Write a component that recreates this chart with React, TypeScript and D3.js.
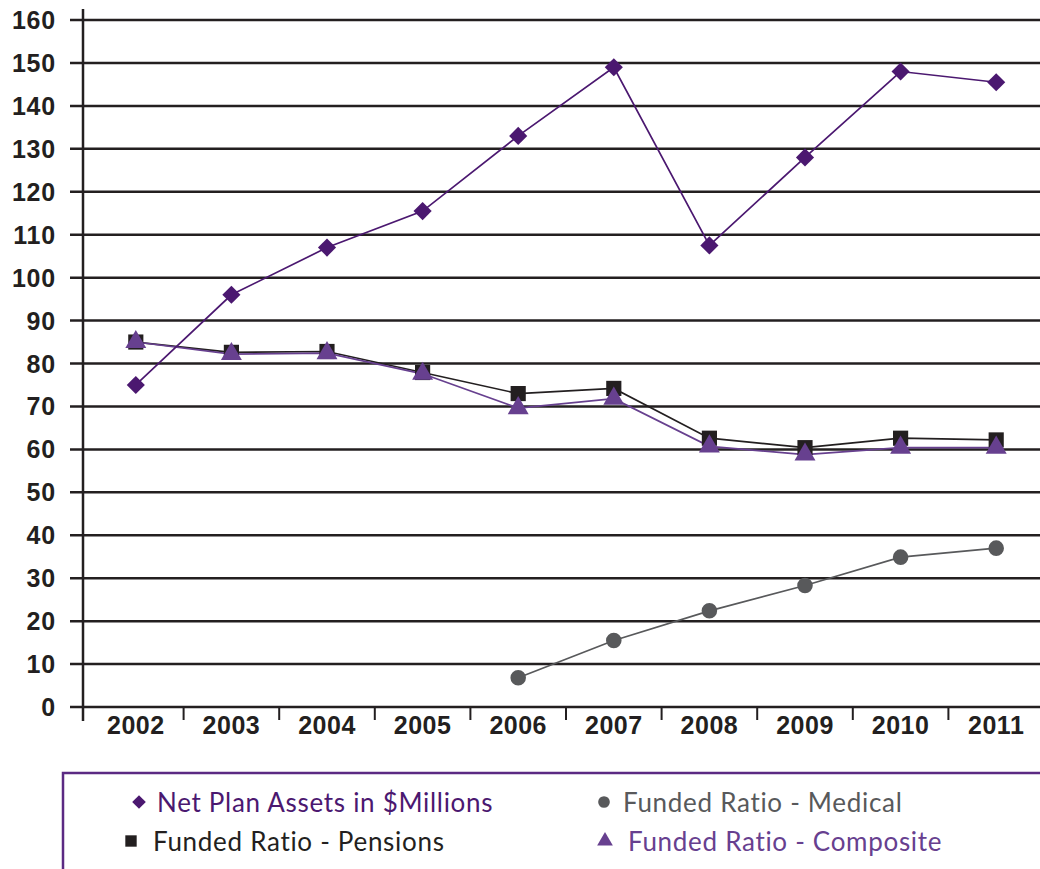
import { useEffect, useRef } from "react";
import * as d3 from "d3";

const years = ["2002", "2003", "2004", "2005", "2006", "2007", "2008", "2009", "2010", "2011"];
const netAssets = [75, 96, 107, 115.5, 133, 149, 107.5, 128, 148, 145.5];
const pensions = [85, 82.6, 82.8, 77.9, 73, 74.2, 62.6, 60.4, 62.6, 62.2];
const composite = [85, 82.2, 82.4, 77.6, 69.6, 71.8, 60.7, 58.8, 60.4, 60.4];
const medical = [null, null, null, null, 6.8, 15.5, 22.4, 28.3, 34.9, 37];
const yTicks = d3.range(0, 161, 10);

const PURPLE = "#4b1870";
const LPURPLE = "#67408f";
const BLACK = "#231f20";
const GRAY = "#58595b";

const App = () => {
    const ref: any = useRef<SVGSVGElement>(null);

    useEffect(() => {
        const W = 1040;
        const H = 869;
        const svg = d3.select(ref.current);
        svg.selectAll("*").remove();

        const x = d3.scaleBand().domain(years).range([88, 1044]);
        const y = d3.scaleLinear().domain([0, 160]).range([707, 20]);
        const cx = (i: number) => (x(years[i]) as number) + x.bandwidth() / 2;

        // gridlines
        svg.append("g")
            .selectAll("line")
            .data(yTicks)
            .join("line")
            .attr("x1", 70)
            .attr("x2", W)
            .attr("y1", d => y(d))
            .attr("y2", d => y(d))
            .attr("stroke", BLACK)
            .attr("stroke-width", 2.5);

        // y labels
        svg.append("g")
            .selectAll("text")
            .data(yTicks)
            .join("text")
            .attr("x", 56)
            .attr("y", d => y(d))
            .attr("dy", "0.36em")
            .attr("text-anchor", "end")
            .attr("font-family", "'Liberation Sans', Arial, sans-serif")
            .attr("font-weight", "bold")
            .attr("font-size", 25)
            .attr("letter-spacing", 0.8)
            .attr("fill", BLACK)
            .text(d => d);

        // y axis
        svg.append("line")
            .attr("x1", 83).attr("x2", 83)
            .attr("y1", 9).attr("y2", 721)
            .attr("stroke", BLACK).attr("stroke-width", 2.5);

        // x ticks
        const bounds = years.slice(1).map(yr => x(yr) as number);
        svg.append("g")
            .selectAll("line")
            .data(bounds)
            .join("line")
            .attr("x1", d => d).attr("x2", d => d)
            .attr("y1", y(0)).attr("y2", 720)
            .attr("stroke", BLACK).attr("stroke-width", 2);

        svg.append("g")
            .selectAll("text")
            .data(years)
            .join("text")
            .attr("x", (_, i) => cx(i))
            .attr("y", 734)
            .attr("text-anchor", "middle")
            .attr("font-family", "'Liberation Sans', Arial, sans-serif")
            .attr("font-weight", "bold")
            .attr("font-size", 25)
            .attr("letter-spacing", 0.5)
            .attr("fill", BLACK)
            .text(d => d);

        const line = d3.line<any>()
            .defined(d => d != null)
            .x((_, i) => cx(i))
            .y(d => y(d));

        const diamond = d3.symbol().type(d3.symbolDiamond2).size(210)();
        const square = d3.symbol().type(d3.symbolSquare).size(230)();
        const triangle = d3.symbol().type(d3.symbolTriangle).size(190)();
        const circle = d3.symbol().type(d3.symbolCircle).size(190)();

        const series = [
            { vals: pensions, color: BLACK, shape: square },
            { vals: composite, color: LPURPLE, shape: triangle },
            { vals: netAssets, color: PURPLE, shape: diamond },
            { vals: medical, color: GRAY, shape: circle },
        ];

        series.forEach(s => {
            svg.append("path")
                .attr("d", line(s.vals as any))
                .attr("fill", "none")
                .attr("stroke", s.color)
                .attr("stroke-width", 1.7);
        });
        series.forEach(s => {
            svg.append("g")
                .selectAll("path")
                .data(s.vals.map((v, i) => ({ v, i })).filter(d => d.v != null))
                .join("path")
                .attr("d", s.shape)
                .attr("transform", d => `translate(${cx(d.i)},${y(d.v as number)})`)
                .attr("fill", s.color);
        });

        // legend box
        svg.append("path")
            .attr("d", `M63,${H} L63,773 L${W},773`)
            .attr("fill", "none")
            .attr("stroke", "#5b2a83")
            .attr("stroke-width", 2.5);

        const legend = [
            { label: "Net Plan Assets in $Millions", color: PURPLE, shape: diamond, mx: 139, tx: 157, my: 803 },
            { label: "Funded Ratio - Pensions", color: BLACK, shape: square, mx: 131, tx: 153, my: 842 },
            { label: "Funded Ratio - Medical", color: GRAY, shape: circle, mx: 604, tx: 623, my: 803 },
            { label: "Funded Ratio - Composite", color: LPURPLE, shape: triangle, mx: 605, tx: 628, my: 842 },
        ];
        const lg = svg.append("g").selectAll("g").data(legend).join("g");
        lg.append("path")
            .attr("d", d => d.shape)
            .attr("transform", d => `translate(${d.mx},${d.my - 1}) scale(0.75)`)
            .attr("fill", d => d.color);
        lg.append("text")
            .attr("x", d => d.tx)
            .attr("y", d => d.my)
            .attr("dy", "0.36em")
            .attr("font-family", "Lato, 'Noto Sans', sans-serif")
            .attr("font-size", 26)
            .attr("letter-spacing", 0.7)
            .attr("fill", d => d.color)
            .text(d => d.label);
    }, []);

    return (
        <svg
            ref={ref}
            width={1040}
            height={869}
            style={{ position: "absolute", left: 0, top: 0, background: "#fff" }}
        />
    );
};

export default App;
